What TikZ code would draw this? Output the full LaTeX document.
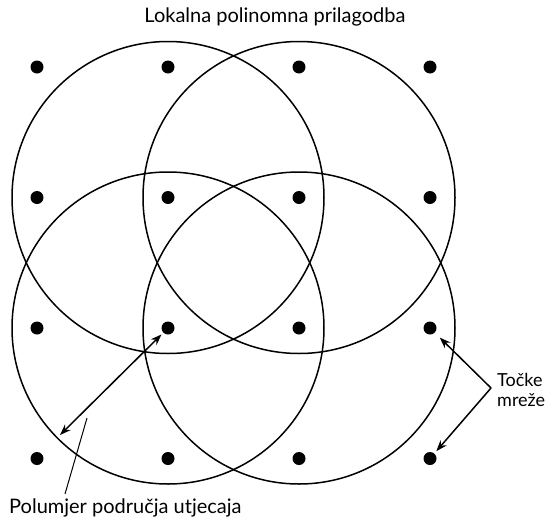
\documentclass[tikz,border=0pt]{standalone}
\usepackage{fontspec}
\setmainfont{Lato}
\usetikzlibrary{arrows.meta}

\begin{document}
\begin{tikzpicture}[x=1pt,y=-1pt,
  gridpt/.style={circle,fill,inner sep=0pt,minimum size=13pt},
  reach/.style={line width=1.5pt},
  pointer/.style={line width=1.5pt,-{Stealth[length=11pt,width=8pt]}},
  lbl/.style={font=\fontsize{20}{22}\selectfont,inner sep=0pt}]
\useasboundingbox (0,0) rectangle (552,517);
% grid points
\foreach \i/\x in {1/37,2/168,3/299,4/430}
  \foreach \j/\y in {1/67,2/197.5,3/328,4/458.5}
    \node[gridpt] (p\i\j) at (\x,\y) {};
% areas of local fit
\foreach \c in {p22,p32,p23,p33}
  \draw[reach] (\c) circle[radius=156pt];
\node[lbl] (title) at (275,17) {Lokalna polinomna prilagodba};
\node[lbl,font=\fontsize{18}{20}\selectfont,anchor=west,align=left] (tocke) at (497,390) {Točke\\mreže};
\node[lbl,anchor=west] (polu) at (9,508) {Polumjer područja utjecaja};
\coordinate (elbow) at (491,388);
\draw[pointer,shorten >=7pt] (elbow) -- (p43);
\draw[pointer,shorten >=3pt] (elbow) -- (p44);
% radius of influence
\coordinate (rim) at (60,435);
\draw[line width=1.5pt,{Stealth[length=11pt,width=8pt]}-{Stealth[length=11pt,width=8pt]},shorten >=2.5pt] (rim) -- (p23);
\coordinate (leadtop) at (87,418);
\coordinate (leadend) at (65,494);
\draw[line width=1pt] (leadend) -- (leadtop);
\end{tikzpicture}
\end{document}
